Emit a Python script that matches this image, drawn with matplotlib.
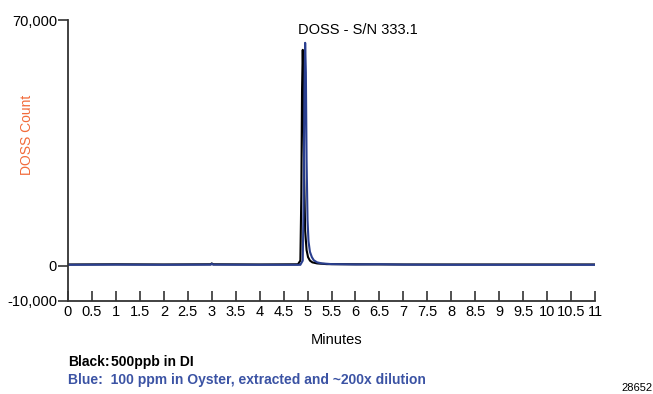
import matplotlib
matplotlib.use("Agg")
import matplotlib.pyplot as plt
from matplotlib.ticker import FuncFormatter

plt.rcParams["font.family"] = ["Liberation Sans", "DejaVu Sans"]

# black trace: 500ppb in DI
black_t = [0, 1, 2, 2.98, 3.0, 3.03, 4, 4.8, 4.85, 4.87, 4.885, 4.9, 4.915, 4.93, 4.95,
           4.98, 5.01, 5.05, 5.1, 5.2, 5.4, 6, 7, 8, 9, 10, 11]
black_y = [400, 450, 400, 450, 700, 450, 400, 450, 1500, 20000, 50000, 61500, 52000, 25000, 10000,
           4500, 2500, 1500, 1000, 700, 500, 450, 400, 400, 400, 400, 400]

# blue trace: 100 ppm in oyster, extracted, ~200x dilution
blue_t = [0, 1, 2, 2.98, 3.0, 3.03, 4, 4.85, 4.9, 4.92, 4.935, 4.95, 4.965, 4.98, 5.0, 5.02,
          5.05, 5.09, 5.13, 5.2, 5.3, 5.5, 6, 6.5, 7, 8, 9, 10, 11]
blue_y = [300, 350, 300, 350, 600, 350, 300, 300, 1500, 20000, 50000, 63500, 55000, 30000, 13000, 7000,
          4000, 2500, 1600, 1000, 700, 500, 400, 450, 350, 300, 300, 300, 300]

x_ticks = [0, 0.5, 1, 1.5, 2, 2.5, 3, 3.5, 4, 4.5, 5, 5.5, 6, 6.5, 7, 7.5, 8, 8.5,
           9, 9.5, 10, 10.5, 11]
y_ticks = [-10000, 0, 70000]

fig = plt.figure(figsize=(6.53, 3.94), dpi=100)
ax = fig.add_axes([68 / 653, 1 - 301 / 394, (595 - 68) / 653, (301 - 20) / 394])

ax.plot(black_t, black_y, color="black", lw=1.5)
ax.plot(blue_t, blue_y, color="#2a3f8f", lw=1.5)

ax.set_xlim(0, 11)
ax.set_ylim(-10000, 70000)
ax.set_xticks(x_ticks)
ax.set_xticklabels([f"{v:g}" for v in x_ticks])
ax.set_yticks(y_ticks)
ax.yaxis.set_major_formatter(FuncFormatter(lambda v, p: f"{int(v):,}"))

for s in ["top", "right"]:
    ax.spines[s].set_visible(False)
for s in ["left", "bottom"]:
    ax.spines[s].set_color("#333333")
    ax.spines[s].set_linewidth(1.3)

ax.tick_params(axis="x", direction="in", length=7, width=1.2, labelsize=10.5, pad=3, color="#333333")
ax.tick_params(axis="y", direction="out", length=7, width=1.2, labelsize=10.5, pad=1, color="#333333")

fig.text(27 / 653, 1 - 135 / 394, "DOSS Count", rotation=90, color="#f26b3a",
         fontsize=10, ha="center", va="center")
fig.text(358 / 653, 1 - 30 / 394, "DOSS - S/N 333.1", fontsize=10.5, ha="center", va="center")
fig.text(337 / 653, 1 - 340 / 394, "Minutes", fontsize=10.5, ha="center", va="center")
fig.text(68 / 653, 1 - 362 / 394, "Black:", fontsize=10, fontweight="bold", ha="left", va="center")
fig.text(111 / 653, 1 - 362 / 394, "500ppb in DI", fontsize=10, fontweight="bold", ha="left", va="center")
fig.text(68 / 653, 1 - 380 / 394, "Blue:  100 ppm in Oyster, extracted and ~200x dilution",
         fontsize=10, fontweight="bold", color="#3b53a4", ha="left", va="center")
fig.text(621 / 653, 1 - 393 / 394, "28652", fontsize=8, ha="left", va="bottom")

fig.savefig("out.png", dpi=100)
